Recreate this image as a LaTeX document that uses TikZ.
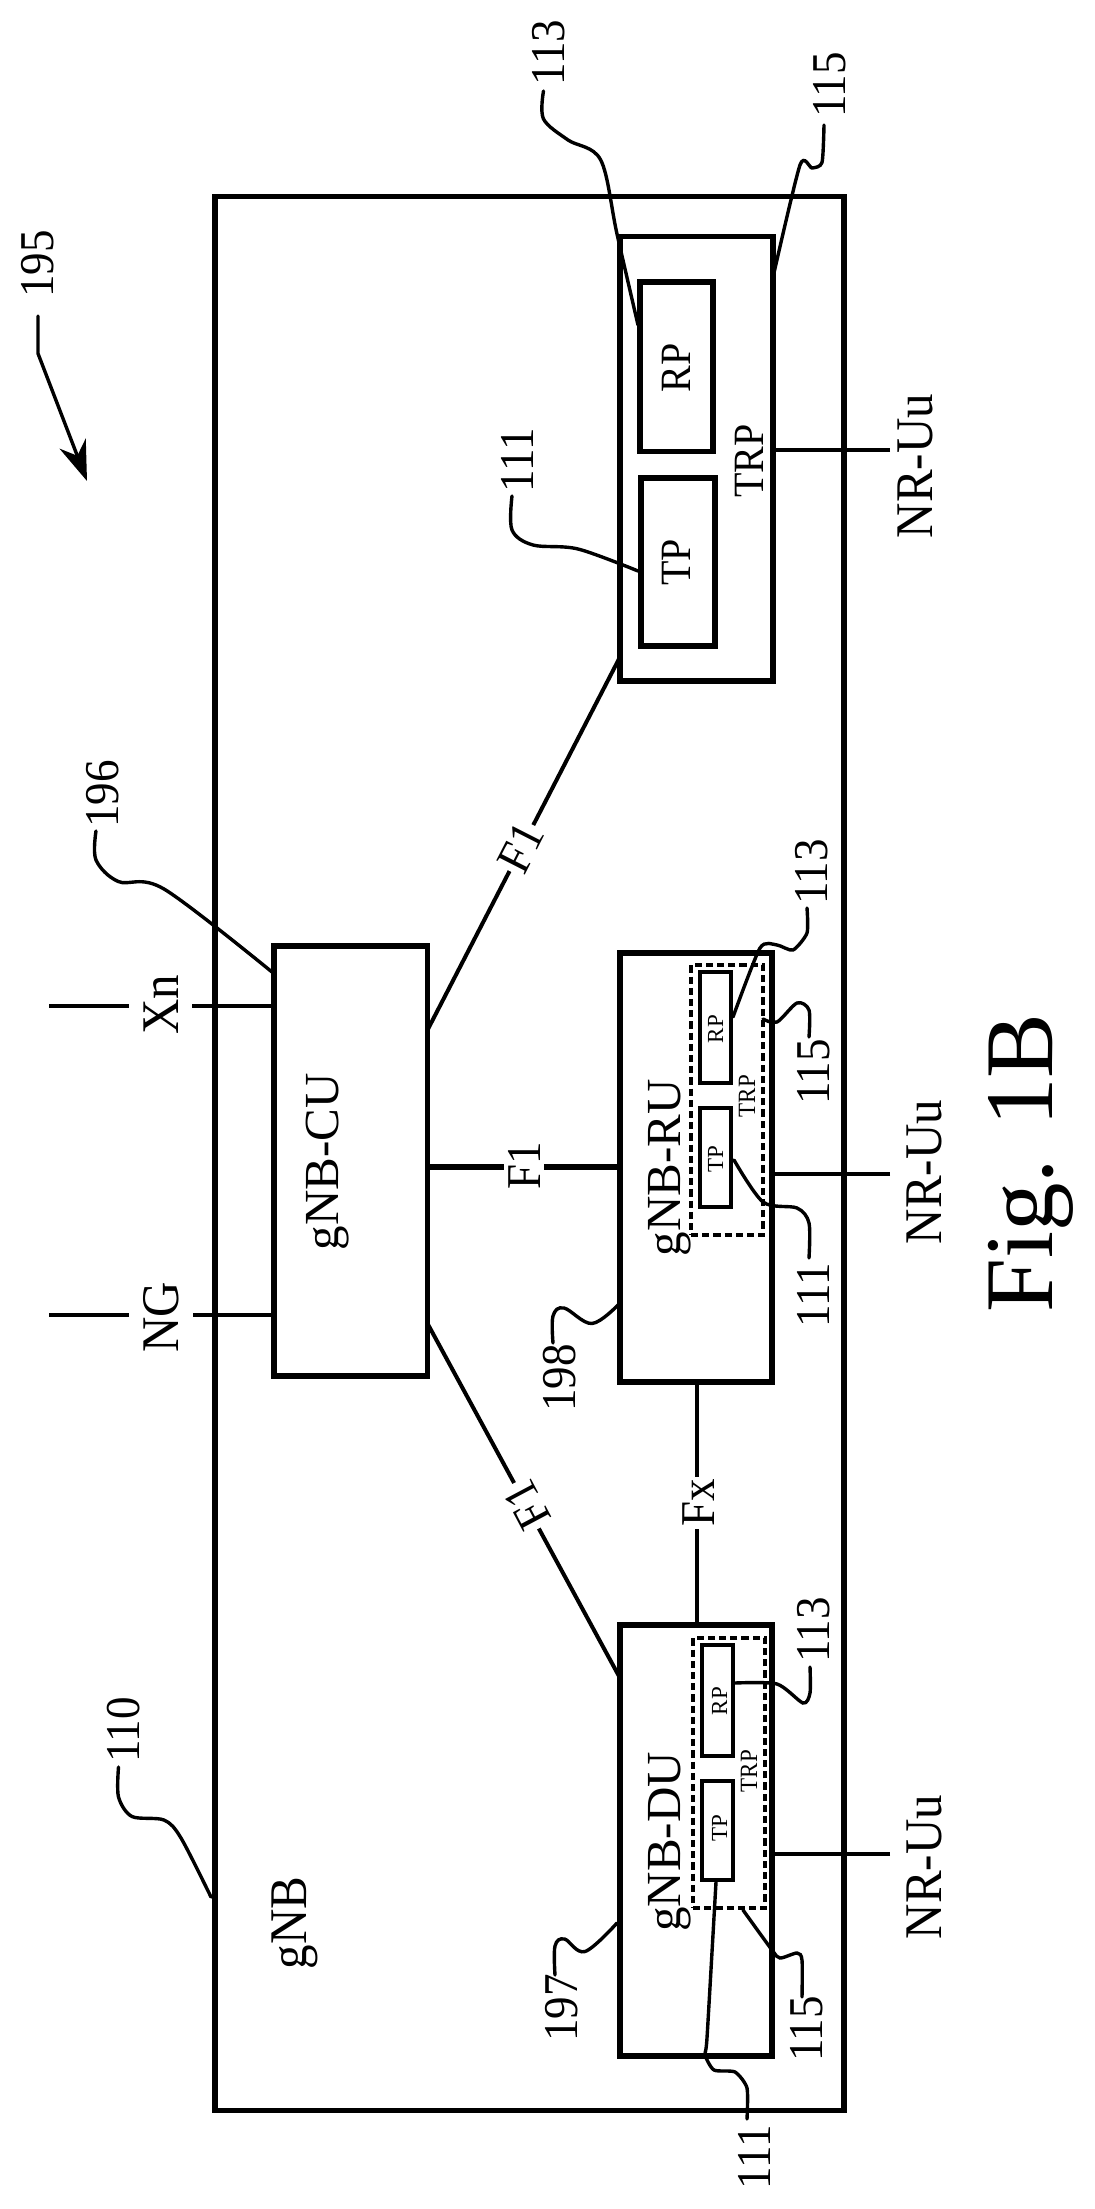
\documentclass[tikz,border=0pt]{standalone}
\usepackage{fontspec}
\setmainfont{Liberation Serif}
\usetikzlibrary{arrows.meta}
\newcommand{\stt}[1]{\scalebox{1}[1.08]{#1}}
\tikzset{
  pbox/.style={draw=black,line width=2.6pt,inner sep=0pt,fill=none},
  thinbox/.style={draw=black,line width=2.4pt,inner sep=0pt},
  dotbox/.style={draw=black,line width=2.2pt,inner sep=0pt,dash pattern=on 3.6pt off 2pt},
  conn/.style={draw=black,line width=2pt},
  thickconn/.style={draw=black,line width=2.6pt},
  leader/.style={draw=black,line width=1.7pt,line cap=round},
  lab/.style={rotate=90,anchor=base,inner sep=0pt},
  big/.style={lab,font=\fontsize{24.5}{25}\selectfont},
  num/.style={lab,font=\fontsize{22.5}{23}\selectfont},
  mid/.style={lab,font=\fontsize{20}{21}\selectfont},
  tiny/.style={lab,font=\fontsize{11.5}{12}\selectfont},
  gap/.style={fill=white}
}
\begin{document}
\begin{tikzpicture}[x=0.5pt,y=-0.5pt]
\useasboundingbox (0,0) rectangle (1094,2209);
% boxes
\node[pbox,minimum width=314.5pt,minimum height=957pt] (gnb) at (529.5,1153.5) {};
\node[pbox,minimum width=76.5pt,minimum height=222.25pt] (trp) at (696.5,458.75) {};
\node[pbox,minimum width=36.5pt,minimum height=84.75pt] (rp) at (676.5,366.75) {};
\node[pbox,minimum width=37pt,minimum height=84pt] (tp) at (678,562) {};
\node[pbox,minimum width=76.75pt,minimum height=215pt] (cu) at (350.75,1161) {};
\node[pbox,minimum width=76pt,minimum height=214.5pt] (ru) at (696,1167.5) {};
\node[dotbox,minimum width=36pt,minimum height=135pt] (rutrp) at (727,1100) {};
\node[thinbox,minimum width=15.5pt,minimum height=55.5pt] (rurp) at (715.5,1027.5) {};
\node[thinbox,minimum width=15.5pt,minimum height=49.5pt] (rutp) at (715.5,1157.5) {};
\node[pbox,minimum width=76pt,minimum height=215.5pt] (du) at (696,1840.5) {};
\node[dotbox,minimum width=36pt,minimum height=135pt] (dutrp) at (729,1773) {};
\node[thinbox,minimum width=15.5pt,minimum height=55.5pt] (durp) at (717.5,1700.5) {};
\node[thinbox,minimum width=15.5pt,minimum height=49.5pt] (dutp) at (717.5,1830.5) {};
% free ends and attachment points
\coordinate (xnf) at (49,1006);
\coordinate (ngf) at (49,1315);
\coordinate (nr1) at (890,450.5);
\coordinate (nr2) at (890,1174);
\coordinate (nr3) at (890,1854);
\coordinate (f1m) at (523,1167);
\coordinate (fxc) at (697,1503);
\coordinate (cua) at (427.5,1030);
\coordinate (cub) at (427.5,1323.5);
\coordinate (trpa) at (620,657);
\coordinate (dua) at (620,1678);
% connectors
\draw[conn] (xnf) -- (xnf -| cu.west);
\draw[conn] (ngf) -- (ngf -| cu.west);
\draw[conn] (nr1) -- (nr1 -| trp.east);
\draw[conn] (nr2) -- (nr2 -| ru.east);
\draw[conn] (nr3) -- (nr3 -| du.east);
\draw[thickconn] (f1m -| cu.east) -- (f1m -| ru.west);
\draw[conn] (fxc |- ru.south) -- (fxc |- du.north);
\draw[conn] (cua) -- (trpa);
\draw[conn] (cub) -- (dua);
% leaders
\draw[leader] plot[smooth,tension=.55] coordinates {(543.5,91) (543.5,119) (568,140) (600.7,160) (617,234) (638,325)};
\draw[leader] plot[smooth,tension=.4] coordinates {(824,125) (822,162.5) (812,168) (800,165) (773.5,275)};
\draw[leader] plot[smooth,tension=.55] coordinates {(512,496) (512,530) (533,545) (578,549) (638,571)};
\draw[leader,-{Stealth[length=20pt,width=14pt]}] (38,316) -- (38,353.5) -- (87,481);
\draw[leader] plot[smooth,tension=.55] coordinates {(96,831) (96,860) (118.5,881.6) (164,889) (272,972)};
\draw[leader] plot[smooth,tension=.4] coordinates {(733,1017) (760,948) (777,945) (793,950) (807,933) (807,908)};
\draw[leader] plot[smooth,tension=.5] coordinates {(763,1019) (777,1022) (797,1003) (809,1010) (809,1037)};
\draw[leader] plot[smooth,tension=.5] coordinates {(734,1160) (763,1202) (797,1208) (809,1223) (809,1258)};
\draw[leader] plot[smooth,tension=.6] coordinates {(619,1304) (592,1323.5) (564,1308) (553,1316) (553,1343)};
\draw[leader] plot[smooth,tension=.6] coordinates {(617,1923) (585,1951.5) (564.5,1939) (555,1946) (555,1975)};
\draw[leader] plot[smooth,tension=.5] coordinates {(118.5,1767) (118.5,1797) (132,1816.5) (164,1820) (181,1838) (211,1897)};
\draw[leader] plot[smooth,tension=.45] coordinates {(735,1683) (777,1684) (803,1703) (810,1693) (810,1667)};
\draw[leader] plot[smooth,tension=.45] coordinates {(743,1910) (772,1950) (780,1958) (797,1953) (802,1960) (802,1997)};
\draw[leader] plot[smooth,tension=.4] coordinates {(716,1882) (707,2038) (705,2054.6) (714,2070) (735,2072) (747,2088) (747,2119)};
% labels on connectors
\node[big,gap,inner ysep=7pt] (xn) at (178,1005) {\stt{Xn}};
\node[big,gap,inner ysep=7pt] (ng) at (178,1317) {\stt{NG}};
\node[num,gap,inner xsep=1pt,inner ysep=2pt] (f1c) at (540,1166) {\stt{F1}};
\node[num,gap,inner xsep=1pt,inner ysep=1pt] (fx) at (714,1503) {\stt{Fx}};
\node[num,gap,rotate=-27,inner xsep=1pt,inner ysep=1pt] (f1a) at (535,855) {\stt{F1}};
\node[num,gap,rotate=28,inner xsep=1pt,inner ysep=1pt] (f1b) at (541,1498) {\stt{F1}};
% box and other labels
\node[big] (lcu) at (338,1162) {gNB-CU};
\node[big] (lru) at (680,1168) {gNB-RU};
\node[big] (ldu) at (680,1842) {gNB-DU};
\node[big] (lgnb) at (306.5,1923) {\stt{gNB}};
\node[mid] (lrp) at (690,368) {\stt{RP}};
\node[mid] (ltp) at (690,562.5) {\stt{TP}};
\node[mid] (ltrp) at (763,461) {\stt{TRP}};
\node[big] (nu1) at (932,466) {\stt{NR-Uu}};
\node[big] (nu2) at (941,1172) {\stt{NR-Uu}};
\node[big] (nu3) at (941,1867) {\stt{NR-Uu}};
\node[tiny] (rrp) at (723,1029) {RP};
\node[tiny] (rtp) at (723,1159) {TP};
\node[tiny] (rtrp) at (755,1096) {\stt{TRP}};
\node[tiny] (drp) at (727,1701) {RP};
\node[tiny] (dtp) at (727,1828) {TP};
\node[tiny] (dtrp) at (757,1771) {\stt{TRP}};
\node[num] (n113a) at (564.5,52.5) {\stt{113}};
\node[num] (n115a) at (845,85) {\stt{115}};
\node[num] (n111a) at (533,460) {\stt{111}};
\node[num] (n195) at (54,264) {\stt{195}};
\node[num] (n196) at (118,794) {\stt{196}};
\node[num] (n113b) at (827,872) {\stt{113}};
\node[num] (n115b) at (829,1072) {\stt{115}};
\node[num] (n111b) at (829,1295) {\stt{111}};
\node[num] (n198) at (575,1378) {\stt{198}};
\node[num] (n110) at (139,1730) {\stt{110}};
\node[num] (n113c) at (829,1630) {\stt{113}};
\node[num] (n115c) at (822,2029) {\stt{115}};
\node[num] (n111c) at (770,2157) {\stt{111}};
\node[num] (n197) at (577,2008) {\stt{197}};
\node[lab,font=\fontsize{48.5}{50}\selectfont] (fig) at (1052,1163) {Fig. 1B};
\end{tikzpicture}
\end{document}
